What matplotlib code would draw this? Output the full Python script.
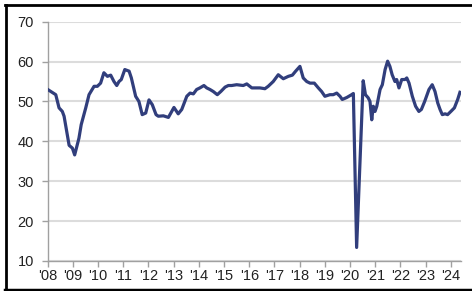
import matplotlib
matplotlib.use("Agg")
import matplotlib.pyplot as plt
from matplotlib.lines import Line2D

# Read-off points: fractional year, index value
years = [2008.00, 2008.32, 2008.45, 2008.58, 2008.65, 2008.85, 2008.98, 2009.07, 2009.24, 2009.33,
         2009.51, 2009.64, 2009.84, 2009.97, 2010.10, 2010.23, 2010.37, 2010.50, 2010.63, 2010.74,
         2010.83, 2010.92, 2011.06, 2011.23, 2011.32, 2011.49, 2011.62, 2011.75, 2011.89, 2012.02,
         2012.15, 2012.30, 2012.39, 2012.59, 2012.79, 2013.01, 2013.18, 2013.32, 2013.52, 2013.65,
         2013.78, 2013.91, 2014.04, 2014.20, 2014.31, 2014.44, 2014.57, 2014.73, 2014.87, 2015.04,
         2015.17, 2015.30, 2015.50, 2015.76, 2015.90, 2016.10, 2016.42, 2016.62, 2016.75, 2016.95,
         2017.15, 2017.35, 2017.55, 2017.71, 2017.84, 2018.01, 2018.14, 2018.28, 2018.41, 2018.58,
         2018.74, 2018.87, 2019.00, 2019.20, 2019.33, 2019.47, 2019.60, 2019.69, 2019.87, 2020.06,
         2020.13, 2020.26, 2020.52, 2020.61, 2020.72, 2020.79, 2020.86, 2020.92, 2020.99, 2021.06,
         2021.19, 2021.28, 2021.39, 2021.49, 2021.58, 2021.67, 2021.78, 2021.85, 2021.94, 2022.05,
         2022.18, 2022.25, 2022.34, 2022.47, 2022.60, 2022.73, 2022.83, 2022.96, 2023.13, 2023.26,
         2023.37, 2023.48, 2023.57, 2023.66, 2023.77, 2023.87, 2024.00, 2024.14, 2024.27, 2024.36]
values = [53.0, 51.7, 48.4, 47.5, 46.3, 39.0, 38.3, 36.6, 40.8, 44.2,
          48.4, 51.7, 53.8, 53.8, 54.6, 57.2, 56.3, 56.6, 55.0, 54.0,
          55.0, 55.5, 58.0, 57.6, 55.9, 51.3, 50.0, 46.7, 47.1, 50.4,
          49.2, 46.7, 46.3, 46.4, 46.0, 48.5, 46.9, 48.0, 51.3, 52.1,
          51.9, 53.0, 53.4, 54.0, 53.4, 53.0, 52.5, 51.7, 52.5, 53.6,
          54.0, 54.0, 54.2, 54.0, 54.4, 53.4, 53.4, 53.2, 53.8, 55.0,
          56.7, 55.7, 56.3, 56.6, 57.6, 58.8, 55.9, 55.0, 54.6, 54.6,
          53.4, 52.5, 51.3, 51.7, 51.7, 52.1, 51.3, 50.5, 51.0, 51.7,
          52.0, 13.4, 55.2, 51.7, 50.9, 50.0, 45.4, 48.8, 47.5, 48.8,
          53.0, 54.2, 58.0, 60.1, 58.8, 56.7, 55.0, 55.5, 53.4, 55.5,
          55.5, 55.9, 54.6, 51.3, 48.8, 47.5, 48.0, 50.0, 53.0, 54.2,
          52.5, 49.6, 48.0, 46.7, 46.9, 46.7, 47.5, 48.4, 50.5, 52.3]

tick_years = list(range(2008, 2025))
tick_labels = ["'%02d" % (y % 100) for y in tick_years]
y_ticks = [10, 20, 30, 40, 50, 60, 70]

plt.rcParams['font.family'] = ['Liberation Sans', 'DejaVu Sans']

fig = plt.figure(figsize=(4.72, 2.91), dpi=100)
W, H = 472, 291
ax = fig.add_axes([47.7 / W, 30 / H, (460.7 - 47.7) / W, (261 - 21.7) / H])

ax.plot(years, values, color='#313E7C', lw=2.3, solid_joinstyle='round', zorder=3)

ax.set_xlim(2008, 2024.39)
ax.set_ylim(10, 70)
ax.set_yticks(y_ticks)
ax.set_xticks(tick_years)
ax.set_xticklabels(tick_labels)
ax.grid(axis='y', color='#dcdcdc', lw=1.5, zorder=0)
ax.set_axisbelow(True)

for s in ['top', 'right']:
    ax.spines[s].set_visible(False)
for s in ['left', 'bottom']:
    ax.spines[s].set_color('#a0a0a0')
    ax.spines[s].set_linewidth(1.0)

ax.tick_params(axis='both', colors='#a0a0a0', length=4, width=1.0, labelsize=10.5,
               labelcolor='#222222')
ax.tick_params(axis='x', pad=2)
ax.tick_params(axis='y', pad=6)

# image frame (black border)
fig.add_artist(Line2D([5 / W, 1.0], [1 - 5 / H, 1 - 5 / H], transform=fig.transFigure,
                      color='black', lw=2.0))
fig.add_artist(Line2D([6 / W, 6 / W], [1 - 5 / H, 1 / H], transform=fig.transFigure,
                      color='black', lw=2.0))
fig.add_artist(Line2D([5 / W, 1.0], [1.5 / H, 1.5 / H], transform=fig.transFigure,
                      color='black', lw=2.5))

fig.savefig('out.png', dpi=100)
